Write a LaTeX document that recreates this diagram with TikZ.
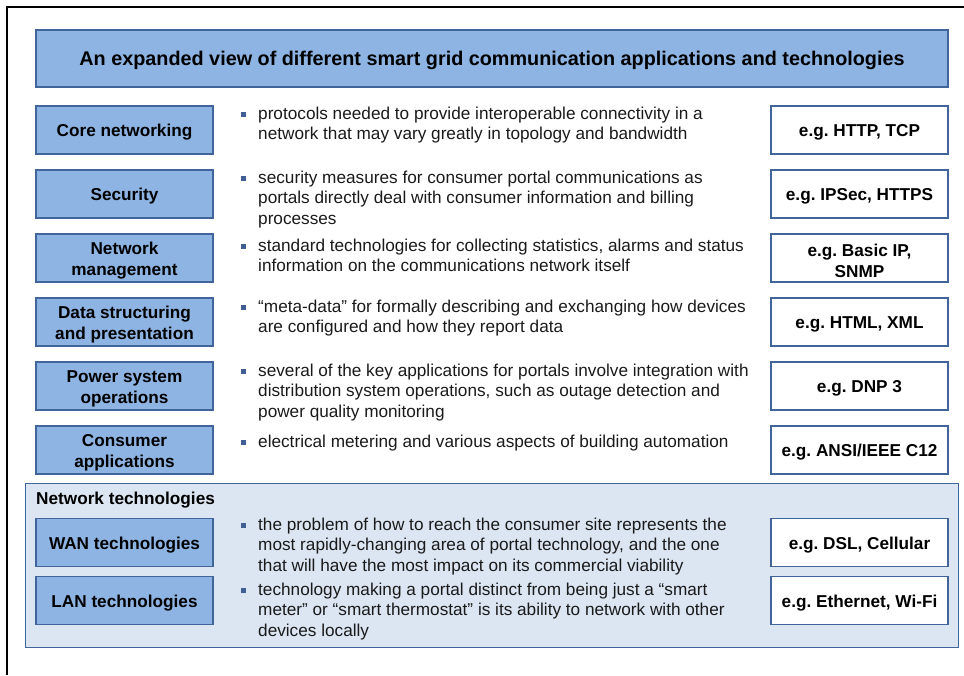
\documentclass[tikz,border=0pt]{standalone}
\usepackage{fontspec}
\setmainfont{Liberation Sans}
\frenchspacing
\definecolor{boxfill}{HTML}{8EB4E3}
\definecolor{boxline}{HTML}{41649A}
\definecolor{bgfill}{HTML}{DCE6F2}
\definecolor{bulletc}{HTML}{3F5F95}
\definecolor{txt}{HTML}{1A1A1A}
\begin{document}
\begin{tikzpicture}[x=1pt,y=-1pt,
  boxlab/.style={align=center, inner sep=0pt, font=\bfseries\fontsize{17.2}{21}\selectfont, text=black, yshift=-2.5pt},
  bluebox/.style={draw=boxline, line width=1.1pt, fill=boxfill, minimum width=177pt, minimum height=48pt, inner sep=0pt, label={[boxlab]center:{#1}}},
  egbox/.style={draw=boxline, line width=1.1pt, fill=white, minimum width=177pt, minimum height=48pt, inner sep=0pt, label={[boxlab]center:{#1}}},
  desc/.style={anchor=north west, inner sep=0pt, align=left, font=\fontsize{17.2}{20.5}\selectfont, text=txt},
  bul/.style={fill=bulletc, draw=none, minimum size=5pt, inner sep=0pt}]
\useasboundingbox (0,0) rectangle (964,675);
\draw[line width=2pt] (7,675) -- (7,7) -- (964,7);
% title
\node[draw=boxline, line width=1.1pt, fill=boxfill, minimum width=912pt, minimum height=57pt, inner sep=0pt,
  label={[boxlab, yshift=0.5pt, font=\bfseries\fontsize{19.8}{22}\selectfont]center:An expanded view of different smart grid communication applications and technologies}] (title) at (492,58.5) {};
% network technologies background
\node[draw=boxline, line width=0.9pt, fill=bgfill, minimum width=933pt, minimum height=164pt, inner sep=0pt] (netbg) at (491.5,565) {};
\node[anchor=west, inner sep=0pt, font=\bfseries\fontsize{17.2}{20}\selectfont] (nettitle) at (36,500) {Network technologies};
% left boxes
\node[bluebox={Core networking}] (core) at (124.5,130) {};
\node[bluebox={Security}] (sec) at (124.5,194) {};
\node[bluebox={Network\\management}] (nm) at (124.5,258) {};
\node[bluebox={Data structuring\\and presentation}] (ds) at (124.5,322) {};
\node[bluebox={Power system\\operations}] (ps) at (124.5,386) {};
\node[bluebox={Consumer\\applications}] (ca) at (124.5,450) {};
\node[bluebox={WAN technologies}] (wan) at (124.5,542.5) {};
\node[bluebox={LAN technologies}] (lan) at (124.5,600.5) {};
% right boxes
\node[egbox={e.g. HTTP, TCP}] (coreeg) at (859.5,130) {};
\node[egbox={e.g. IPSec, HTTPS}] (seceg) at (859.5,194) {};
\node[egbox={e.g. Basic IP,\\SNMP}] (nmeg) at (859.5,258) {};
\node[egbox={e.g. HTML, XML}] (dseg) at (859.5,322) {};
\node[egbox={e.g. DNP 3}] (pseg) at (859.5,386) {};
\node[egbox={e.g. ANSI/IEEE C12}] (caeg) at (859.5,450) {};
\node[egbox={e.g. DSL, Cellular}] (waneg) at (859.5,542.5) {};
\node[egbox={e.g. Ethernet, Wi-Fi}] (laneg) at (859.5,600.5) {};
% bullets and descriptions (first-line centre y)
\foreach \n/\yc in {b1/114, b2/178, b3/246, b4/307, b5/371, b6/442, b7/525, b8/590}{
  \node[bul] (\n) at (243.5,\yc) {};
}
\node[desc] (d1) at (258,104.65) {\strut protocols needed to provide interoperable connectivity in a\\network that may vary greatly in topology and bandwidth};
\node[desc] (d2) at (258,168.65) {\strut security measures for consumer portal communications as\\portals directly deal with consumer information and billing\\processes};
\node[desc] (d3) at (258,236.65) {\strut standard technologies for collecting statistics, alarms and status\\information on the communications network itself};
\node[desc] (d4) at (258,297.65) {\strut ``meta-data'' for formally describing and exchanging how devices\\are configured and how they report data};
\node[desc] (d5) at (258,361.65) {\strut several of the key applications for portals involve integration with\\distribution system operations, such as outage detection and\\power quality monitoring};
\node[desc] (d6) at (258,432.65) {\strut electrical metering and various aspects of building automation};
\node[desc] (d7) at (258,515.65) {\strut the problem of how to reach the consumer site represents the\\most rapidly-changing area of portal technology, and the one\\that will have the most impact on its commercial viability};
\node[desc] (d8) at (258,580.65) {\strut technology making a portal distinct from being just a ``smart\\meter'' or ``smart thermostat'' is its ability to network with other\\devices locally};
\end{tikzpicture}
\end{document}
